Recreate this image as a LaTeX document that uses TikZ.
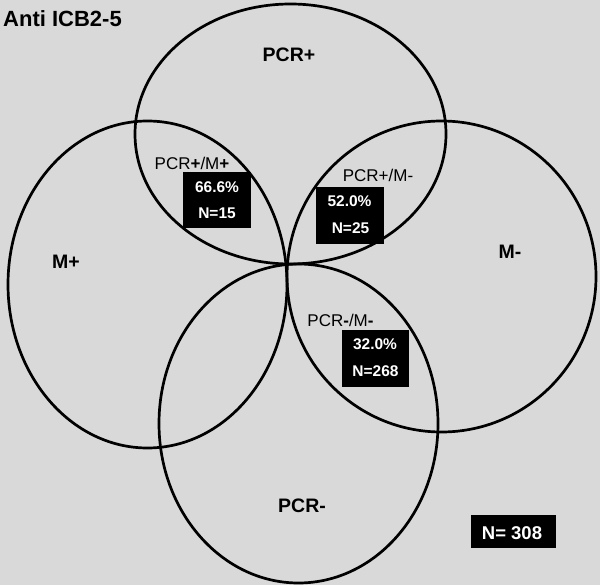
\documentclass[tikz,border=0pt]{standalone}
\usepackage{fontspec}
\setmainfont{Liberation Sans}
\begin{document}
\begin{tikzpicture}[x=1pt,y=-1pt,
  ring/.style={draw=black,line width=2.7pt},
  big/.style={font=\fontsize{19.5}{19.5}\selectfont\bfseries,anchor=base,inner sep=0pt},
  title/.style={font=\fontsize{22}{22}\selectfont\bfseries,anchor=base west,inner sep=0pt},
  pair/.style={font=\fontsize{17}{17}\selectfont,anchor=base,inner sep=0pt},
  blk/.style={fill=black,draw=none,inner sep=0pt},
  val/.style={font=\fontsize{15.5}{15.5}\selectfont\bfseries,text=white,anchor=base,inner sep=0pt},
  tot/.style={font=\fontsize{18.5}{18.5}\selectfont\bfseries,text=white,anchor=base,inner sep=0pt}]
\definecolor{bg}{HTML}{D9D9D9}
\useasboundingbox (0,0) rectangle (600,585);
\fill[bg] (0,0) rectangle (600,585);
% ellipses
\draw[ring] (290.5,134) ellipse [x radius=155.5pt, y radius=130pt];
\draw[ring] (147.5,284.5) ellipse [x radius=139.5pt, y radius=163.5pt];
\draw[ring] (441.5,276.5) ellipse [x radius=154.5pt, y radius=155.5pt];
\draw[ring] (298.5,423.5) ellipse [x radius=139.5pt, y radius=159.5pt];
% titles
\node[title] (ttl) at (3,27) {Anti ICB2-5};
\node[big] (pcrp) at (289,62) {PCR+};
\node[big] (mp) at (66,269) {M+};
\node[big] (mm) at (510,259) {M-};
\node[big] (pcrm) at (302,512) {PCR-};
% overlap labels
\node[pair] (l1) at (192,170) {PCR{\bfseries+}/M{\bfseries+}};
\node[pair] (l2) at (378,182) {PCR+/M-};
\node[pair] (l3) at (340.5,327) {PCR{\bfseries-}/M{\bfseries-}};
% black boxes
\path[blk] (183,172) rectangle (251,228);
\path[blk] (316,187) rectangle (384,244);
\path[blk] (342,330) rectangle (409,387);
\path[blk] (471,515) rectangle (556,548);
\node[val] (v1a) at (217,193) {66.6\%};
\node[val] (v1b) at (217,219) {N=15};
\node[val] (v2a) at (349.5,207) {52.0\%};
\node[val] (v2b) at (350.5,234) {N=25};
\node[val] (v3a) at (375,350) {32.0\%};
\node[val] (v3b) at (375.5,377) {N=268};
\node[tot] (nt) at (512,539) {N= 308};
\end{tikzpicture}
\end{document}
